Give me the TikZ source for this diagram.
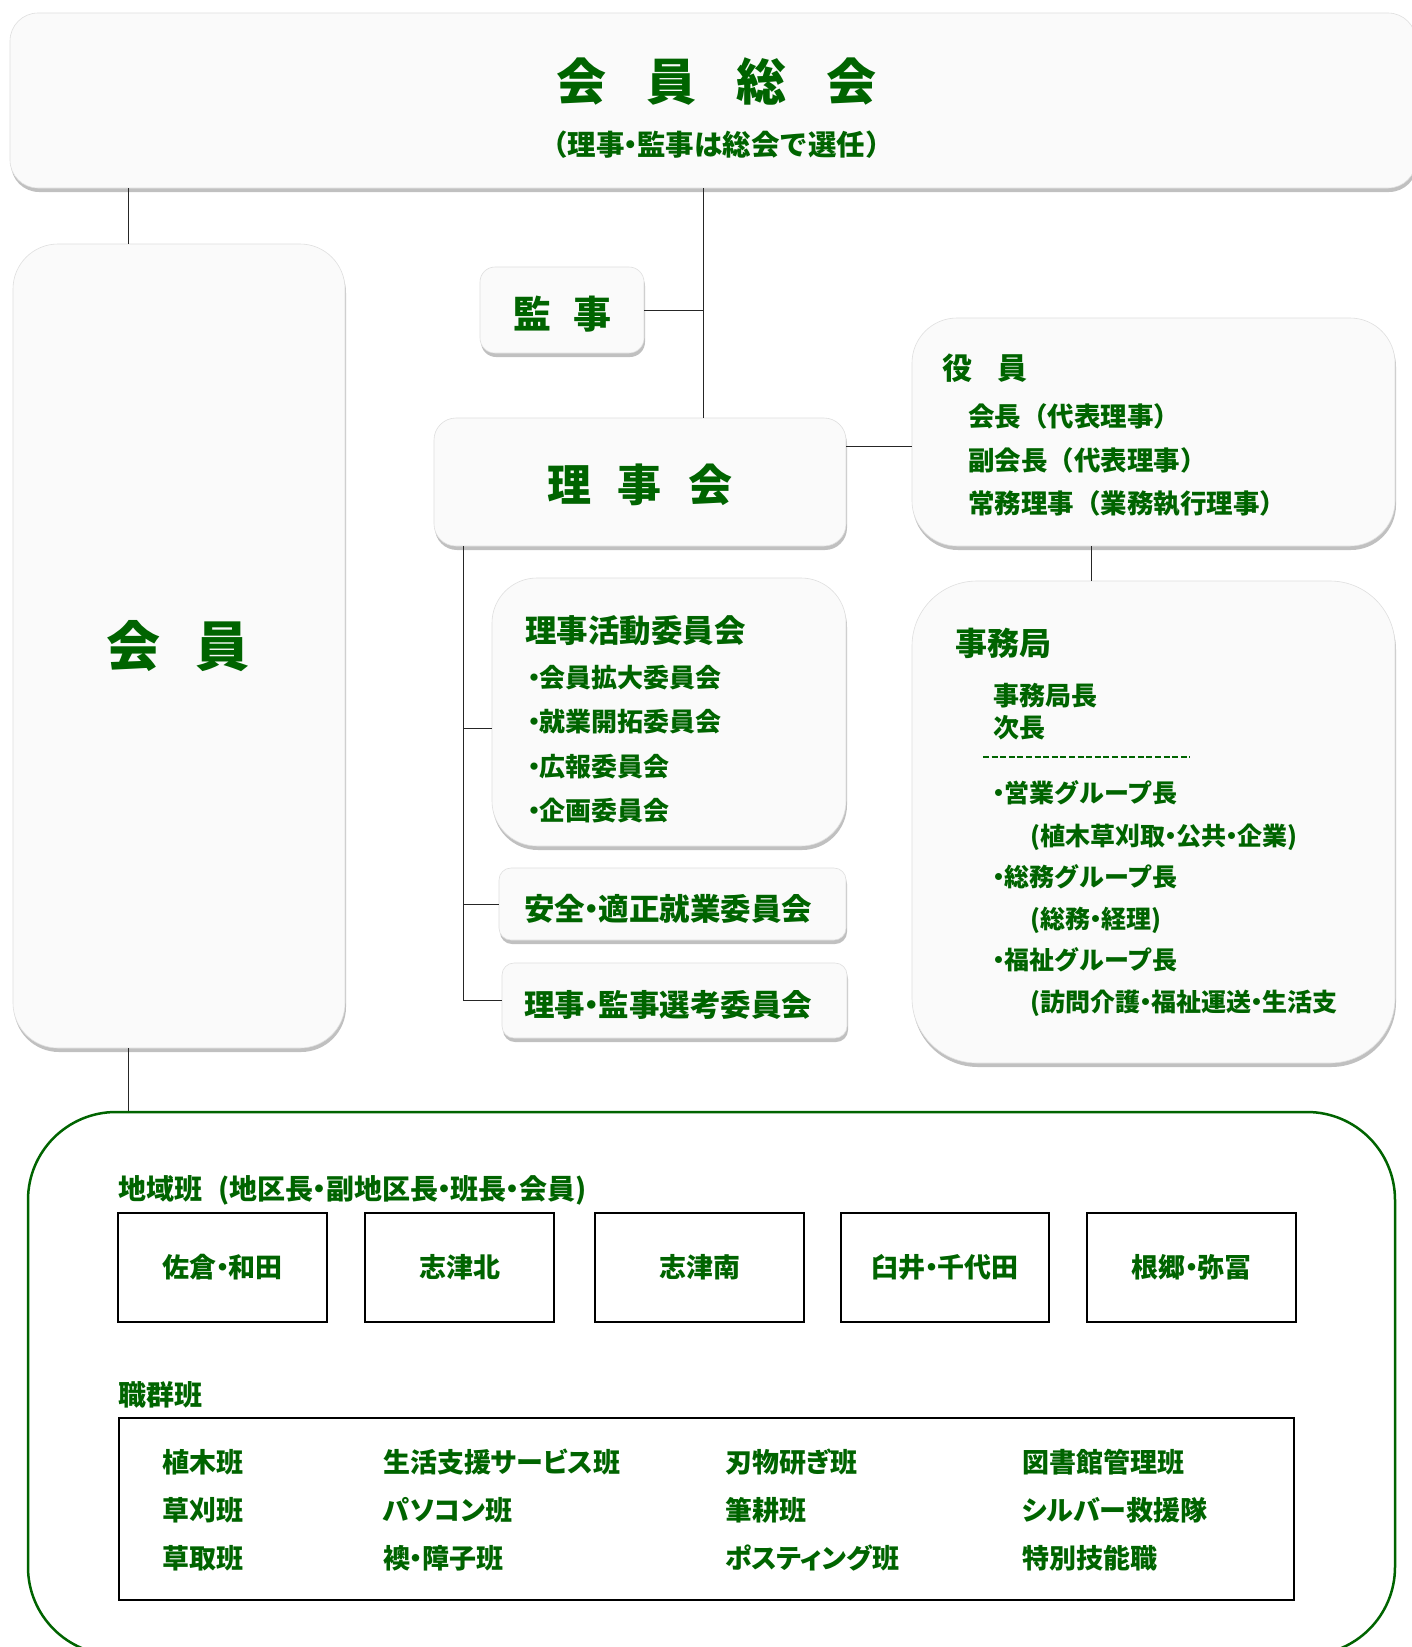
\documentclass[tikz,border=0pt]{standalone}
\usepackage{fontspec}
\setmainfont{Noto Sans CJK JP}
\newfontfamily\jpp{Noto Sans CJK JP}[RawFeature=+palt]
\usetikzlibrary{shadows}
\definecolor{kgreen}{RGB}{0,100,0}
\newcommand{\nk}{\makebox[0.45em][c]{・}}
\begin{document}
\begin{tikzpicture}[x=1pt,y=-1pt,
  panel/.style={draw=gray!25, line width=0.6pt, fill=gray!4, inner sep=0pt,
    drop shadow={shadow xshift=1pt, shadow yshift=-4pt, opacity=0.35, fill=black!70}},
  gt/.style={text=kgreen, font=\bfseries\fontsize{#1}{#1}\selectfont, inner sep=0pt},
  gt/.default=26,
  gp/.style={text=kgreen, font=\jpp\bfseries\fontsize{#1}{#1}\selectfont, inner sep=0pt},
  cell/.style={draw=black, line width=2pt, fill=white, inner sep=0pt},
  conn/.style={draw=black!85, line width=1pt}
]
\useasboundingbox[fill=white] (0,0) rectangle (1412,1647);

% panels
\node[panel, rounded corners=28pt, minimum width=1406pt, minimum height=175pt] (sokai) at (713,100.5) {};
\node[gt=50] (sokaiT) at (716.5,82) {会\hspace{40pt}員\hspace{40pt}総\hspace{40pt}会};
\node[gt=28.5] (sokaiS) at (716.5,145) {（理事\nk 監事は総会で選任）};

\node[panel, rounded corners=45pt, minimum width=332pt, minimum height=804pt] (kaiin) at (179,646) {};
\node[gt=54] (kaiinT) at (178,646) {会\hspace{36pt}員};

\node[panel, rounded corners=15pt, minimum width=164pt, minimum height=86pt] (kanji) at (562,310) {};
\node[gt=38] (kanjiT) at (562.5,314) {監\hspace{22pt}事};

\node[panel, rounded corners=22pt, minimum width=412pt, minimum height=128pt] (rijikai) at (640,482) {};
\node[gt=44] (rijikaiT) at (640,485) {理\hspace{27pt}事\hspace{27pt}会};

\node[panel, rounded corners=45pt, minimum width=483pt, minimum height=228pt] (yakuin) at (1153.5,432) {};
\node[gt=30, anchor=west] (y1) at (942,368) {役\hspace{25pt}員};
\node[gt=26.5, anchor=west] (y2) at (968,416) {会長（代表理事）};
\node[gt=26.5, anchor=west] (y3) at (968,460) {副会長（代表理事）};
\node[gt=26.5, anchor=west] (y4) at (968,504) {常務理事（業務執行理事）};

\node[panel, rounded corners=65pt, minimum width=483pt, minimum height=482pt] (jimu) at (1153.5,822) {};
\node[gt=32, anchor=west] (j1) at (955,643) {事務局};
\node[gt=26, anchor=west] (j2) at (993,696) {事務局長};
\node[gt=26, anchor=west] (j3) at (993,728) {次長};
\draw[kgreen, line width=2pt, dash pattern=on 6pt off 2.6pt] (983,757) -- (1190,757);
\node[gt=25, anchor=west] (j4) at (993,793) {\nk 営業グループ長};
\node[gt=25, anchor=west] (j5) at (1030,837) {(植木草刈取\nk 公共\nk 企業)};
\node[gt=25, anchor=west] (j6) at (993,877) {\nk 総務グループ長};
\node[gt=25, anchor=west] (j7) at (1030,920) {(総務\nk 経理)};
\node[gt=25, anchor=west] (j8) at (993,960) {\nk 福祉グループ長};
\node[gt=25, anchor=west] (j9) at (1030,1003) {(訪問介護\nk 福祉運送\nk 生活支};

\node[panel, rounded corners=45pt, minimum width=354pt, minimum height=268pt] (katsudo) at (669,712) {};
\node[gt=31.5, anchor=west] (k1) at (525,631) {理事活動委員会};
\node[gt=26, anchor=west] (k2) at (528,678) {\nk 会員拡大委員会};
\node[gt=26, anchor=west] (k3) at (528,722) {\nk 就業開拓委員会};
\node[gt=26, anchor=west] (k4) at (528,767) {\nk 広報委員会};
\node[gt=26, anchor=west] (k5) at (528,811) {\nk 企画委員会};

\node[panel, rounded corners=12pt, minimum width=347pt, minimum height=72pt] (anzen) at (672.5,904) {};
\node[gt=30.5, anchor=west] (anzenT) at (524,909) {安全\nk 適正就業委員会};

\node[panel, rounded corners=12pt, minimum width=345pt, minimum height=75pt] (senko) at (674.5,1000.5) {};
\node[gt=30.5, anchor=west] (senkoT) at (524,1005) {理事\nk 監事選考委員会};

% bottom area
\node[draw=kgreen, line width=2.5pt, rounded corners=88pt, minimum width=1367pt, minimum height=543pt, inner sep=0pt] (area) at (711.5,1383.5) {};
\node[gt=28, anchor=west] (chiikiL) at (118,1190) {地域班\hspace{16pt}(地区長\nk 副地区長\nk 班長\nk 会員)};
\begin{scope}[every node/.style={cell, minimum height=109pt, text=kgreen, font=\bfseries\fontsize{27}{27}\selectfont}]
\node[minimum width=209pt] (c1) at (222.5,1267.5) {佐倉\nk 和田};
\node[minimum width=189pt] (c2) at (459.5,1267.5) {志津北};
\node[minimum width=209pt] (c3) at (699.5,1267.5) {志津南};
\node[minimum width=208pt] (c4) at (945,1267.5) {臼井\nk 千代田};
\node[minimum width=209pt] (c5) at (1191.5,1267.5) {根郷\nk 弥冨};
\end{scope}

\node[gt=28, anchor=west] (shokuL) at (118,1395) {職群班};
\node[cell, minimum width=1175pt, minimum height=182pt] (shoku) at (706.5,1509) {};
\begin{scope}[every node/.style={gp=27, anchor=west}]
\node (s11) at (162,1462) {植木班};
\node (s12) at (162,1510) {草刈班};
\node (s13) at (162,1558) {草取班};
\node (s21) at (383,1462) {生活支援サービス班};
\node (s22) at (383,1510) {パソコン班};
\node (s23) at (383,1558) {襖\nk 障子班};
\node (s31) at (725,1462) {刃物研ぎ班};
\node (s32) at (725,1510) {筆耕班};
\node (s33) at (725,1558) {ポスティング班};
\node (s41) at (1022,1462) {図書館管理班};
\node (s42) at (1022,1510) {シルバー救援隊};
\node (s43) at (1022,1558) {特別技能職};
\end{scope}

% connectors
\coordinate (vA) at (128,0);
\draw[conn] (vA |- sokai.south) -- (vA |- kaiin.north);
\draw[conn] (vA |- kaiin.south) -- (vA |- area.north);
\coordinate (vB) at (703,0);
\draw[conn] (vB |- sokai.south) -- (vB |- rijikai.north);
\draw[conn] (kanji.east) -- (vB |- kanji.east);
\coordinate (hC) at (0,446);
\draw[conn] (rijikai.east |- hC) -- (yakuin.west |- hC);
\coordinate (vD) at (1091,0);
\draw[conn] (vD |- yakuin.south) -- (vD |- jimu.north);
\coordinate (vE) at (463,0);
\coordinate (hF) at (0,728);
\draw[conn] (vE |- rijikai.south) -- (vE |- senko.west) -- (senko.west);
\draw[conn] (vE |- hF) -- (katsudo.west |- hF);
\draw[conn] (vE |- anzen.west) -- (anzen.west);
\end{tikzpicture}
\end{document}
